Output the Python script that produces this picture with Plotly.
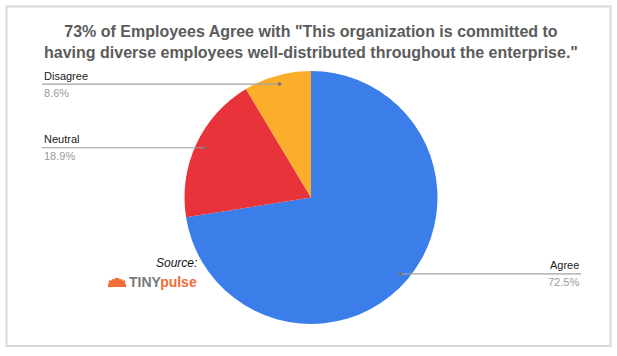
import math
import plotly.graph_objects as go

# ---- data ----
labels = ["Agree", "Neutral", "Disagree"]
values = [72.5, 18.9, 8.6]
colors = ["#3b7ee9", "#e8333a", "#fbad2c"]
title_text = ('73% of Employees Agree with "This organization is committed to<br>'
              'having diverse employees well-distributed throughout the enterprise."')

W, H = 617, 356
# pie geometry (pixels)
CX, CY, R = 311.0, 197.5, 126.5
dom_x = [(CX - R) / W, (CX + R) / W]
dom_y = [(H - CY - R) / H, (H - CY + R) / H]

fig = go.Figure()
fig.add_trace(go.Pie(
    labels=labels, values=values, sort=False, direction="clockwise", rotation=0,
    marker=dict(colors=colors, line=dict(width=0)),
    textinfo="none", hoverinfo="label+percent", showlegend=False,
    domain=dict(x=dom_x, y=dom_y),
))

def px2paper(x, y):
    return x / W, (H - y) / H

total = sum(values)
cum = 0.0
shapes = []
annotations = []
LEFT_X, RIGHT_X = 42, 581
for lab, v in zip(labels, values):
    mid = (cum + v / 2) / total * 2 * math.pi
    cum += v
    dx = 0.93 * R * math.sin(mid)
    dy = -0.93 * R * math.cos(mid)
    px, py = CX + dx, CY + dy
    pct = f"{v / total * 100:.1f}%"
    right = dx > 0
    end_x = RIGHT_X if right else LEFT_X
    x0, y0 = px2paper(px, py)
    x1, _ = px2paper(end_x, py)
    shapes.append(dict(type="line", xref="paper", yref="paper", x0=x0, y0=y0, x1=x1, y1=y0,
                       line=dict(color="#a0a0a0", width=1.2)))
    r = 1.8
    a0, b0 = px2paper(px - r, py - r)
    a1, b1 = px2paper(px + r, py + r)
    shapes.append(dict(type="circle", xref="paper", yref="paper", x0=a0, y0=b1, x1=a1, y1=b0,
                       fillcolor="#777777", line=dict(width=0)))
    anchor = "right" if right else "left"
    annotations.append(dict(xref="paper", yref="paper", x=x1, y=y0 + 0.5 / H, text=lab,
                            showarrow=False, xanchor=anchor, yanchor="bottom",
                            font=dict(family="Liberation Sans, Arial", size=11, color="#222222")))
    annotations.append(dict(xref="paper", yref="paper", x=x1, y=y0 - 0.5 / H, text=pct,
                            showarrow=False, xanchor=anchor, yanchor="top",
                            font=dict(family="Liberation Sans, Arial", size=11, color="#9a9a9a")))

# title
annotations.append(dict(xref="paper", yref="paper", x=311 / W, y=1 - 21 / H, text="<b>" + title_text + "</b>",
                        showarrow=False, xanchor="center", yanchor="top", align="center",
                        font=dict(family="Liberation Sans, Arial", size=16, color="#5b5b5b")))
# source
annotations.append(dict(xref="paper", yref="paper", x=199 / W, y=1 - 263 / H, text="<i>Source:</i>",
                        showarrow=False, xanchor="right", yanchor="middle",
                        font=dict(family="Liberation Sans, Arial", size=12, color="#111111")))
annotations.append(dict(xref="paper", yref="paper", x=199 / W, y=1 - 282 / H,
                        text="<b><span style='color:#7a7a7a'>TINY</span><span style='color:#f26c3a'>pulse</span></b>",
                        showarrow=False, xanchor="right", yanchor="middle",
                        font=dict(family="Liberation Sans, Arial", size=14, color="#7a7a7a")))
# logo icon (small orange lotus)
lx, ly = 117, 283
for ox in (-6, -3, 0, 3, 6):
    a0, b0 = px2paper(lx + ox - 2.2, ly - 5 + abs(ox) * 0.4)
    a1, b1 = px2paper(lx + ox + 2.2, ly + 2)
    shapes.append(dict(type="rect", xref="paper", yref="paper", x0=a0, y0=b1, x1=a1, y1=b0,
                       fillcolor="#f26c3a", line=dict(width=0)))
a0, b0 = px2paper(lx - 9, ly + 1)
a1, b1 = px2paper(lx + 9, ly + 4)
shapes.append(dict(type="rect", xref="paper", yref="paper", x0=a0, y0=b1, x1=a1, y1=b0,
                   fillcolor="#f26c3a", line=dict(width=0)))

# frame
a0, b0 = px2paper(6.5, 6.5)
a1, b1 = px2paper(610.5, 346)
shapes.append(dict(type="rect", xref="paper", yref="paper", x0=a0, y0=b1, x1=a1, y1=b0,
                   line=dict(color="#d9d9d9", width=2), fillcolor="rgba(0,0,0,0)", layer="below"))

fig.update_layout(
    width=W, height=H, margin=dict(l=0, r=0, t=0, b=0),
    paper_bgcolor="white", plot_bgcolor="white",
    shapes=shapes, annotations=annotations,
)
fig.write_html("out.html", config={"displayModeBar": False},
               post_script="document.body.style.margin='0';document.body.style.overflow='hidden';")
